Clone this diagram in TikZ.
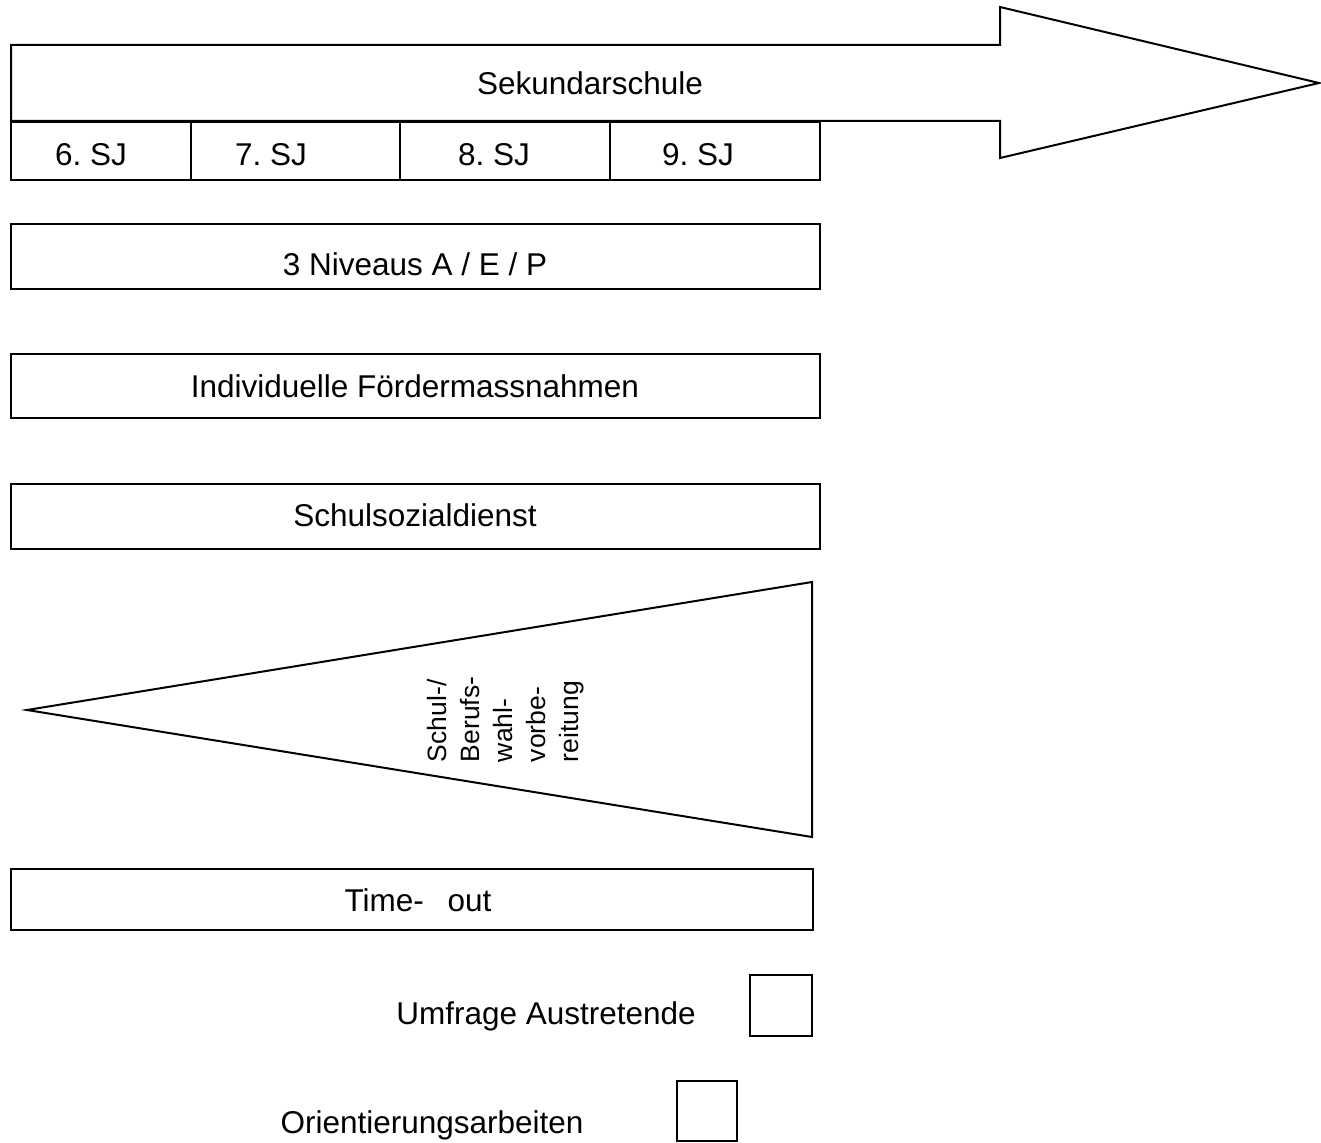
\documentclass[tikz,border=0pt]{standalone}
\usepackage{fontspec}
\setmainfont{Liberation Sans}
\begin{document}
\frenchspacing
\begin{tikzpicture}[x=1pt,y=-1pt,line width=2pt,line join=miter,
  lbl/.style={inner sep=0pt,anchor=base,font=\fontsize{31.5}{38}\selectfont},
  vlbl/.style={inner sep=0pt,anchor=base west,rotate=90,font=\fontsize{26.5}{32}\selectfont},
  boxframe/.style={draw=black,line width=2pt}]
\useasboundingbox (0,0) rectangle (1321,1142);
% big arrow
\draw[boxframe] (11,45) -- (1000,45) -- (1000,7) -- (1319,83) -- (1000,158) -- (1000,121) -- (11,121) -- cycle;
\node[lbl] (sek) at (590,95) {Sekundarschule};
% school years row
\draw[boxframe] (11,122) rectangle (820,180);
\draw[line width=3pt] (11,122) -- (820,122);
\draw[boxframe] (191,122) -- (191,180);
\draw[boxframe] (400,122) -- (400,180);
\draw[boxframe] (610,122) -- (610,180);
\node[lbl] (sj6) at (91,166) {6. SJ};
\node[lbl] (sj7) at (271,166) {7. SJ};
\node[lbl] (sj8) at (494,166) {8. SJ};
\node[lbl] (sj9) at (698,166) {9. SJ};
% bars
\draw[boxframe] (11,224) rectangle (820,289);
\node[lbl] (niv) at (415,275) {3 Niveaus A / E / P};
\draw[boxframe] (11,354) rectangle (820,418);
\node[lbl] (ind) at (415,397) {Individuelle Fördermassnahmen};
\draw[boxframe] (11,484) rectangle (820,549);
\node[lbl] (ssd) at (415,526) {Schulsozialdienst};
% triangle
\draw[boxframe] (27,710) -- (812,582) -- (812,837) -- cycle;
\node[vlbl] (v1) at (446,763) {Schul-/};
\node[vlbl] (v2) at (479,763) {Berufs-};
\node[vlbl] (v3) at (512,763) {wahl-};
\node[vlbl] (v4) at (545,763) {vorbe-};
\node[vlbl] (v5) at (578,763) {reitung};
% time-out
\draw[boxframe] (11,869) rectangle (813,930);
\node[lbl] (to) at (418,911) {Time-\hspace{0.75em}out};
% small boxes
\node[lbl] (umf) at (546,1024) {Umfrage Austretende};
\draw[boxframe] (750,975) rectangle (812,1036);
\node[lbl] (ori) at (432,1133) {Orientierungsarbeiten};
\draw[boxframe] (677,1081) rectangle (737,1141);
\end{tikzpicture}
\end{document}
